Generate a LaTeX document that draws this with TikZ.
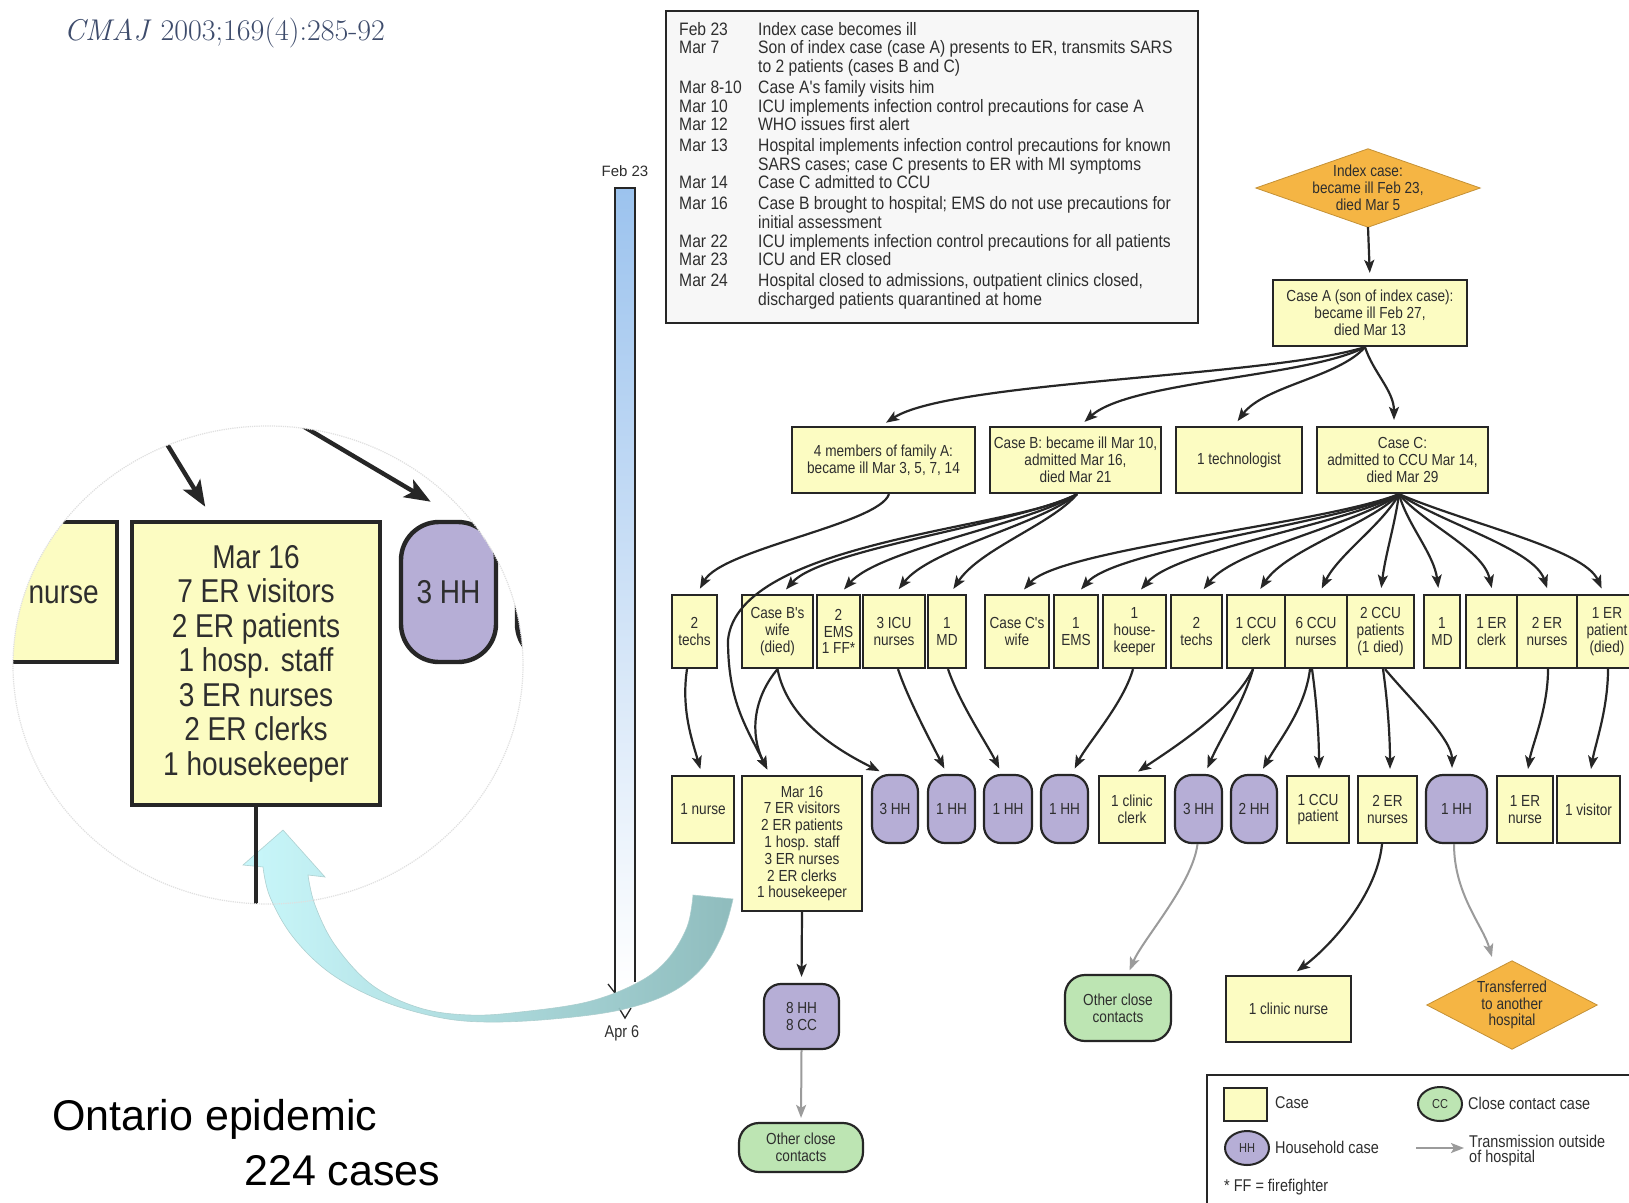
\documentclass[tikz,border=0pt]{standalone}
\usepackage{fontspec}
\newfontfamily\dfont[FakeStretch=0.85]{Liberation Sans}
\newfontfamily\tfont[FakeStretch=0.87]{Liberation Sans}
\newfontfamily\afont{Liberation Sans}
\usetikzlibrary{arrows.meta,backgrounds,calc,shapes.geometric}
\definecolor{boxy}{HTML}{FCFCC2}
\definecolor{hhp}{HTML}{B6AED6}
\definecolor{ccg}{HTML}{BDE5B3}
\definecolor{orng}{HTML}{F5B544}
\definecolor{linec}{HTML}{262626}
\definecolor{txt}{HTML}{2E2E2E}
\definecolor{greyar}{HTML}{9B9B9B}
\definecolor{cmaj}{HTML}{3E4C6C}
\definecolor{barblue}{HTML}{9CC3EE}
\definecolor{cyanL}{HTML}{C5F7FB}
\definecolor{cyanR}{HTML}{86B7B8}
\definecolor{tlfill}{HTML}{F7F7F7}
\newcommand\tlrow[4]{%
  \node[tltext] (#1a) at (679,#2) {#3};
  \node[tltext] (#1b) at (758,#2) {#4};}
\newcommand\tlcont[3]{\node[tltext] (#1b) at (758,#2) {#3};}
\begin{document}
\begin{tikzpicture}[x=1pt,y=-1pt,
  dtext/.style={font=\dfont\fontsize{16}{16.8}\selectfont, text=txt, align=center},
  base/.style={dtext, draw=linec, line width=2.2pt, inner sep=1pt},
  cbox/.style={base, fill=boxy, rectangle},
  hhbox/.style={base, fill=hhp, rounded corners=17pt},
  ccbox/.style={base, fill=ccg, rounded corners=20pt},
  r3/.style={cbox, minimum height=73pt},
  r4/.style={cbox, minimum height=67pt},
  hh/.style={hhbox, minimum height=68pt},
  diamtext/.style={dtext, inner sep=0pt},
  tltext/.style={font=\tfont\fontsize{18}{19}\selectfont, text=txt, anchor=west, inner sep=0pt, text height=14pt, text depth=2pt},
  ltext/.style={font=\dfont\fontsize{17}{15.5}\selectfont, text=txt, anchor=west, inner sep=0pt, align=left},
  arr/.style={draw=linec, line width=2.2pt, -{Stealth[length=13pt,width=10pt,inset=3pt]}, shorten >=6pt},
  garr/.style={draw=greyar, line width=2pt, -{Stealth[length=13pt,width=10pt,inset=3pt]}, shorten >=4pt},
  iarr/.style={draw=linec, line width=4.4pt, -{Stealth[length=26pt,width=20pt,inset=6pt]}},
  ibox/.style={draw=linec, line width=4.4pt, text=txt, align=center, inner sep=2pt,
     font=\dfont\fontsize{33}{34.5}\selectfont}
]
\useasboundingbox (0,0) rectangle (1629,1202);
\begin{pgfonlayer}{background}
\fill[white] (0,0) rectangle (1629,1202);
\end{pgfonlayer}

% ---------- title ----------
\node[anchor=west, inner sep=0pt, text=cmaj, font=\fontsize{30}{32}\selectfont] (title) at (64,33) {\textit{CMAJ} 2003;169(4):285-92};

% ---------- timeline box ----------
\node[draw=linec, line width=2.2pt, fill=tlfill, minimum width=532pt, minimum height=312pt, anchor=north west, inner sep=0pt] (tl) at (665,10) {};
\tlrow{l1}{29.1}{Feb 23}{Index case becomes ill}
\tlrow{l2}{47.8}{Mar 7}{Son of index case (case A) presents to ER, transmits SARS}
\tlcont{l3}{66.5}{to 2 patients (cases B and C)}
\tlrow{l4}{87.3}{Mar 8-10}{Case A's family visits him}
\tlrow{l5}{106}{Mar 10}{ICU implements infection control precautions for case A}
\tlrow{l6}{124.7}{Mar 12}{WHO issues first alert}
\tlrow{l7}{145.4}{Mar 13}{Hospital implements infection control precautions for known}
\tlcont{l8}{164.1}{SARS cases; case C presents to ER with MI symptoms}
\tlrow{l9}{182.8}{Mar 14}{Case C admitted to CCU}
\tlrow{l10}{203.6}{Mar 16}{Case B brought to hospital; EMS do not use precautions for}
\tlcont{l11}{222.3}{initial assessment}
\tlrow{l12}{241}{Mar 22}{ICU implements infection control precautions for all patients}
\tlrow{l13}{259.7}{Mar 23}{ICU and ER closed}
\tlrow{l14}{280.5}{Mar 24}{Hospital closed to admissions, outpatient clinics closed,}
\tlcont{l15}{299.2}{discharged patients quarantined at home}

% ---------- timeline bar ----------
\coordinate (barTL) at (615,188);
\coordinate (barTR) at (635,188);
\coordinate (barBL) at (615,993);
\coordinate (barBR) at (635,982);
\shade[top color=barblue, bottom color=white] (barTL) rectangle (635,990);
\draw[linec, line width=1.3pt] (barBL) -- (barTL) -- (barTR) -- (barBR);
\coordinate (barW1) at (608,984);
\draw[linec, line width=1.3pt] (barW1) -- (barBL);
\coordinate (vA) at (619,1008); \coordinate (vB) at (625,1018); \coordinate (vC) at (631,1008);
\draw[linec, line width=1.3pt] (vA) -- (vB) -- (vC);
\node[font=\afont\fontsize{15}{17}\selectfont, text=txt] (feb) at (625,171) {Feb 23};
\node[font=\dfont\fontsize{17}{17}\selectfont, text=txt] (apr) at (622,1033) {Apr 6};

% ---------- cyan arrow ----------
\shade[left color=cyanL, right color=cyanR, opacity=0.92, draw=cyanR!70!white, line width=0.6pt]
  (283,830) -- (243,865) -- (263,867)
  -- plot[smooth, tension=0.6] coordinates {(263,867) (270,897) (293,937) (330,973) (380,1000) (437,1017) (487,1022) (553,1019) (620,1010) (670,993) (703,967) (723,933) (733,899)}
  -- (693,895)
  -- plot[smooth, tension=0.6] coordinates {(693,895) (687,927) (667,960) (637,983) (587,1002) (520,1012) (470,1015) (420,1008) (372,985) (335,945) (315,905) (308,875)}
  -- (325,877) -- cycle;

% ---------- inset ----------
\begin{scope}
\clip (268,665) ellipse [x radius=255, y radius=239];
\node[ibox, fill=boxy, minimum width=130pt, minimum height=140pt] (inurse) at (52,592) {1 nurse};
\node[ibox, fill=boxy, minimum width=248pt, minimum height=283pt] (imar) at (256,663.5) {Mar 16\\7 ER visitors\\2 ER patients\\1 hosp. staff\\3 ER nurses\\2 ER clerks\\1 housekeeper};
\node[ibox, fill=hhp, rounded corners=38pt, minimum width=95pt, minimum height=140pt] (ihh1) at (448.5,592) {3 HH};
\node[ibox, fill=hhp, rounded corners=38pt, minimum width=97pt, minimum height=140pt] (ihh2) at (565.5,592) {1 HH};
\coordinate (iaS) at (137,395);
\coordinate (ibS) at (230,383);
\coordinate (icE) at (256,945);
\draw[iarr, shorten >=13pt] (iaS) -- ([xshift=-44pt,yshift=2pt]imar.north);
\draw[iarr, shorten >=12pt] (ibS) -- ([xshift=-7.5pt,yshift=12pt]ihh1.north);
\draw[iarr] (imar.south) -- (icE);
\end{scope}
\draw[gray!25, densely dotted, line width=1.2pt] (268,665) ellipse [x radius=255, y radius=239];

% ---------- Ontario text ----------
\node[anchor=west, inner sep=0pt, font=\afont\fontsize{43}{50}\selectfont] (ont1) at (52,1119) {Ontario epidemic};
\node[anchor=west, inner sep=0pt, font=\afont\fontsize{43}{50}\selectfont] (ont2) at (244,1171) {224 cases};

% ---------- row 1 ----------
\node[diamtext, minimum width=224pt, minimum height=78pt] (idx) at (1368,188) {Index case:\\became ill Feb 23,\\died Mar 5};
\begin{pgfonlayer}{background}
\fill[orng, draw=orng!80!black, line width=0.8pt] (idx.north) -- (idx.east) -- (idx.south) -- (idx.west) -- cycle;
\end{pgfonlayer}
\node[cbox, minimum width=194pt, minimum height=66pt] (caseA) at (1370,313) {Case A (son of index case):\\became ill Feb 27,\\died Mar 13};
\draw[arr] (idx.south) -- (caseA.north);

% ---------- row 2 ----------
\node[cbox, minimum width=183pt, minimum height=66pt] (fam) at (883.5,460) {4 members of family A:\\became ill Mar 3, 5, 7, 14};
\node[cbox, minimum width=171pt, minimum height=66pt] (caseB) at (1075.5,460) {Case B: became ill Mar 10,\\admitted Mar 16,\\died Mar 21};
\node[cbox, minimum width=126pt, minimum height=66pt] (tech) at (1239,460) {1 technologist};
\node[cbox, minimum width=171pt, minimum height=66pt] (caseC) at (1402.5,460) {Case C:\\admitted to CCU Mar 14,\\died Mar 29};

\coordinate (cAs) at ([xshift=-5pt]caseA.south);
\draw[arr] (cAs) .. controls +(-97,30) and +(70,-45) .. ([xshift=-2.5pt]fam.north);
\draw[arr] (cAs) .. controls +(-57,30) and +(50,-45) .. ([xshift=4.5pt]caseB.north);
\draw[arr] (cAs) .. controls +(-26,30) and +(30,-40) .. ([xshift=-5pt]tech.north);
\draw[arr] (cAs) .. controls +(8,25) and +(0,-35) .. ([xshift=-8.5pt]caseC.north);

% ---------- row 3 ----------
\node[r3, minimum width=45pt] (r3a) at (694.5,631.5) {2\\techs};
\node[r3, minimum width=71pt] (r3b) at (777.5,631.5) {Case B's\\wife\\(died)};
\node[r3, minimum width=43pt] (r3c) at (838.5,631.5) {2\\EMS\\1 FF*};
\node[r3, minimum width=62pt] (r3d) at (894,631.5) {3 ICU\\nurses};
\node[r3, minimum width=38pt] (r3e) at (947,631.5) {1\\MD};
\node[r3, minimum width=64pt] (r3f) at (1017,631.5) {Case C's\\wife};
\node[r3, minimum width=44pt] (r3g) at (1076,631.5) {1\\EMS};
\node[r3, minimum width=63pt] (r3h) at (1134.5,631.5) {1\\house-\\keeper};
\node[r3, minimum width=51pt] (r3i) at (1196.5,631.5) {2\\techs};
\node[r3, minimum width=58pt] (r3j) at (1256,631.5) {1 CCU\\clerk};
\node[r3, minimum width=62pt] (r3k) at (1316,631.5) {6 CCU\\nurses};
\node[r3, minimum width=67pt] (r3l) at (1380.5,631.5) {2 CCU\\patients\\(1 died)};
\node[r3, minimum width=36pt] (r3m) at (1442,631.5) {1\\MD};
\node[r3, minimum width=51pt] (r3n) at (1491.5,631.5) {1 ER\\clerk};
\node[r3, minimum width=60pt] (r3o) at (1547,631.5) {2 ER\\nurses};
\node[r3, minimum width=60pt] (r3p) at (1607,631.5) {1 ER\\patient\\(died)};

% family A -> techs
\draw[arr] ([xshift=5.5pt]fam.south) .. controls +(-10,30) and +(25,-45) .. ([xshift=2.5pt]r3a.north);
% case B fan
\coordinate (cBs) at ([xshift=1.5pt]caseB.south);
\draw[arr] (cBs) .. controls +(-60,30) and +(40,-45) .. ([xshift=4.5pt]r3b.north);
\draw[arr] (cBs) .. controls +(-48,30) and +(40,-45) .. ([xshift=1.5pt]r3c.north);
\draw[arr] (cBs) .. controls +(-36,30) and +(35,-45) .. ([xshift=1pt]r3d.north);
\draw[arr] (cBs) .. controls +(-25,30) and +(30,-45) .. ([xshift=3pt]r3e.north);
% case C fan
\coordinate (cCs) at ([xshift=-3.5pt]caseC.south);
\draw[arr] (cCs) .. controls +(-76,30) and +(40,-45) .. ([xshift=3pt]r3f.north);
\draw[arr] (cCs) .. controls +(-64,30) and +(40,-45) .. ([xshift=1pt]r3g.north);
\draw[arr] (cCs) .. controls +(-52,30) and +(40,-45) .. ([xshift=2.5pt]r3h.north);
\draw[arr] (cCs) .. controls +(-40,30) and +(35,-45) .. ([xshift=3.5pt]r3i.north);
\draw[arr] (cCs) .. controls +(-28,30) and +(30,-45) .. ([xshift=1pt]r3j.north);
\draw[arr] (cCs) .. controls +(-16,30) and +(20,-40) .. ([xshift=3pt]r3k.north);
\draw[arr] (cCs) .. controls +(-4,30) and +(5,-40) .. (r3l.north);
\draw[arr] (cCs) .. controls +(8,30) and +(-5,-40) .. ([xshift=-3pt]r3m.north);
\draw[arr] (cCs) .. controls +(25,30) and +(-10,-45) .. ([xshift=1.5pt]r3n.north);
\draw[arr] (cCs) .. controls +(45,30) and +(-15,-45) .. ([xshift=2pt]r3o.north);
\draw[arr] (cCs) .. controls +(70,30) and +(-20,-45) .. ([xshift=-3pt]r3p.north);

% ---------- row 4 ----------
\node[r4, minimum width=62pt] (r4a) at (703,809.5) {1 nurse};
\node[cbox, minimum width=120pt, minimum height=135pt] (mar) at (802,843.5) {Mar 16\\7 ER visitors\\2 ER patients\\1 hosp. staff\\3 ER nurses\\2 ER clerks\\1 housekeeper};
\node[hh, minimum width=46pt] (hh1) at (895,809) {3 HH};
\node[hh, minimum width=47pt] (hh2) at (951.5,809) {1 HH};
\node[hh, minimum width=48pt] (hh3) at (1008,809) {1 HH};
\node[hh, minimum width=47pt] (hh4) at (1064.5,809) {1 HH};
\node[r4, minimum width=66pt] (r4b) at (1132,809.5) {1 clinic\\clerk};
\node[hh, minimum width=47pt] (hh5) at (1198.5,809) {3 HH};
\node[hh, minimum width=46pt] (hh6) at (1254,809) {2 HH};
\node[r4, minimum width=62pt] (r4c) at (1318,809.5) {1 CCU\\patient};
\node[r4, minimum width=59pt] (r4d) at (1387.5,809.5) {2 ER\\nurses};
\node[hh, minimum width=61pt] (hh7) at (1456.5,809) {1 HH};
\node[r4, minimum width=56pt] (r4e) at (1525,809.5) {1 ER\\nurse};
\node[r4, minimum width=63pt] (r4f) at (1588.5,809.5) {1 visitor};

% row3 -> row4
\coordinate (gapB) at (728,640);
\draw[arr] (cBs) .. controls +(-60,35) and +(10,-100) .. (gapB) .. controls +(0,60) and +(-25,-50) .. ([xshift=-32pt]mar.north);
\draw[arr] (r3b.south) .. controls +(-25,30) and +(-20,-40) .. ([xshift=-32pt]mar.north);
\draw[arr] (r3b.south) .. controls +(10,50) and +(-50,-25) .. ([xshift=-10pt]hh1.north);
\draw[arr] ([xshift=-7.5pt]r3a.south) .. controls +(-6,40) and +(-10,-35) .. ([xshift=-1pt]r4a.north);
\draw[arr] ([xshift=4pt]r3d.south) .. controls +(10,30) and +(-15,-30) .. ([xshift=-4.5pt]hh2.north);
\draw[arr] ([xshift=1pt]r3e.south) .. controls +(12,35) and +(-15,-30) .. ([xshift=-6pt]hh3.north);
\draw[arr] ([xshift=-1.5pt]r3h.south) .. controls +(-10,35) and +(15,-30) .. ([xshift=7.5pt]hh4.north);
\draw[arr] ([xshift=-3pt]r3j.south) .. controls +(-20,40) and +(45,-30) .. ([xshift=1pt]r4b.north);
\draw[arr] ([xshift=-3pt]r3j.south) .. controls +(-10,35) and +(15,-35) .. ([xshift=6.5pt]hh5.north);
\draw[arr] ([xshift=-6pt]r3k.south) .. controls +(-5,40) and +(20,-35) .. ([xshift=6pt]hh6.north);
\draw[arr] ([xshift=-4pt]r3k.south) .. controls +(5,35) and +(0,-35) .. ([xshift=1pt]r4c.north);
\draw[arr] ([xshift=2.5pt]r3l.south) .. controls +(5,35) and +(0,-35) .. ([xshift=2.5pt]r4d.north);
\draw[arr] ([xshift=4.5pt]r3l.south) .. controls +(25,30) and +(0,-35) .. ([xshift=-4.5pt]hh7.north);
\draw[arr] ([xshift=1pt]r3o.south) .. controls +(0,40) and +(5,-30) .. ([xshift=2pt]r4e.north);
\draw[arr] ([xshift=1pt]r3p.south) .. controls +(0,40) and +(5,-30) .. ([xshift=1.5pt]r4f.north);

% ---------- row 5 ----------
\node[hhbox, minimum width=75pt, minimum height=65pt] (hh8) at (801.5,1016.5) {8 HH\\8 CC};
\node[ccbox, minimum width=124pt, minimum height=49pt] (occ1) at (801,1147.5) {Other close\\contacts};
\node[ccbox, minimum width=106pt, minimum height=66pt] (occ2) at (1118,1008) {Other close\\contacts};
\node[cbox, minimum width=125pt, minimum height=66pt] (cn) at (1288.5,1009) {1 clinic nurse};
\node[diamtext, minimum width=170pt, minimum height=88pt] (trans) at (1512,1005) {Transferred\\to another\\hospital};
\begin{pgfonlayer}{background}
\fill[orng, draw=orng!80!black, line width=0.8pt] (trans.north) -- (trans.east) -- (trans.south) -- (trans.west) -- cycle;
\end{pgfonlayer}

\draw[arr] (mar.south) -- (hh8.north);
\draw[garr] (hh8.south) -- (occ1.north);
\draw[garr] ([xshift=-1pt]hh5.south) .. controls +(-5,40) and +(15,-35) .. ([xshift=10pt]occ2.north);
\draw[arr] ([xshift=-5.5pt]r4d.south) .. controls +(-5,50) and +(40,-30) .. ([xshift=3.5pt]cn.north);
\draw[garr] ([xshift=-2.5pt]hh7.south) .. controls +(0,50) and +(-10,-35) .. ([xshift=-19pt]trans.north);

% ---------- legend ----------
\node[draw=linec, line width=2.2pt, minimum width=440pt, minimum height=145pt, anchor=north west, inner sep=0pt] (leg) at (1206,1074) {};
\node[cbox, minimum width=43pt, minimum height=33pt] (lcase) at (1245.5,1104.5) {};
\node[ltext] (lcaset) at (1275,1103) {Case};
\node[ellipse, draw=linec, line width=2pt, fill=ccg, minimum width=44pt, minimum height=34pt, inner sep=0pt, text=txt, font=\dfont\fontsize{13}{13}\selectfont] (lcc) at (1440,1104) {CC};
\node[ltext] (lcct) at (1468,1103) {Close contact case};
\node[ellipse, draw=linec, line width=2pt, fill=hhp, minimum width=44pt, minimum height=34pt, inner sep=0pt, text=txt, font=\dfont\fontsize{13}{13}\selectfont] (lhh) at (1247,1148) {HH};
\node[ltext] (lhht) at (1275,1147) {Household case};
\coordinate (lgA) at (1416,1148);
\coordinate (lgB) at (1464,1148);
\draw[garr, shorten >=0pt] (lgA) -- (lgB);
\node[ltext] (lgt) at (1469,1150.5) {Transmission outside\\of hospital};
\node[ltext] (lff) at (1224,1187) {* FF = firefighter};
\end{tikzpicture}
\end{document}
